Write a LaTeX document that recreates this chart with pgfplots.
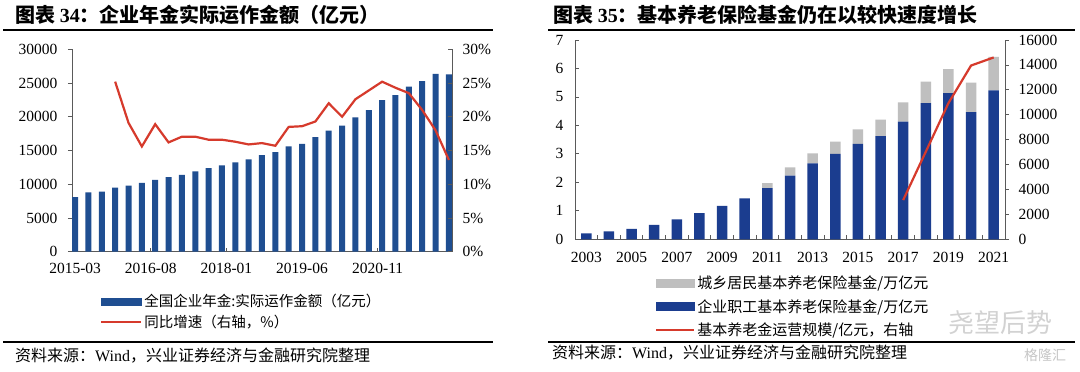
\documentclass[border=0pt]{standalone}
\usepackage{pgfplots}
\pgfplotsset{compat=1.18}
\usepackage{pgfplotstable}
\usepackage{fontspec}
\setmainfont{Liberation Serif}
\newfontfamily\cjk{Noto Sans CJK SC}
\definecolor{bluea}{RGB}{31,78,145}
\definecolor{blueb}{RGB}{27,61,143}
\definecolor{grayb}{RGB}{191,191,191}
\definecolor{redl}{RGB}{214,58,44}
\definecolor{axc}{RGB}{90,90,90}

\pgfplotstableread{
m v g
0 8100 nan
3 8800 nan
6 8900 nan
9 9500 25.2
12 9800 19.1
15 10200 15.6
18 10650 18.9
21 11050 16.2
24 11400 17.05
27 11900 17.05
30 12400 16.6
33 12800 16.6
36 13250 16.3
39 13700 15.9
42 14300 16.1
45 14750 15.7
48 15600 18.5
51 16000 18.6
54 17000 19.3
57 17950 22.0
60 18700 20.0
63 19900 22.6
66 21000 23.9
69 22450 25.2
72 23200 24.3
75 24450 23.5
78 25300 21.0
81 26350 18.0
84 26300 13.6
}\tabA

\pgfplotstableread{
y blue gray
2003 0.21 0
2004 0.28 0
2005 0.37 0
2006 0.51 0
2007 0.70 0
2008 0.92 0
2009 1.17 0
2010 1.44 0
2011 1.80 0.17
2012 2.24 0.29
2013 2.67 0.35
2014 3.00 0.43
2015 3.35 0.51
2016 3.62 0.58
2017 4.13 0.68
2018 4.78 0.76
2019 5.13 0.85
2020 4.47 1.03
2021 5.23 1.18
}\tabB

\pgfplotstableread{
y s
2017 3150
2018 7030
2019 10930
2020 13950
2021 14600
}\tabC

\pgfplotsset{
  base/.style={
    scale only axis,
    tick label style={font=\fontsize{15.5}{18}\selectfont},
    /pgf/number format/assume math mode=true,
    /pgf/number format/1000 sep={},
    scaled ticks=false,
    axis line style={axc, line width=0.8pt},
    tick style={axc, line width=0.8pt},
    major tick length=4pt,
    clip=false,
  }
}

\begin{document}
\begin{tikzpicture}
\path[use as bounding box, fill=white] (0pt,0pt) rectangle (1080pt,-372pt);

% ---------- titles and rules ----------
\node[anchor=west, inner sep=0pt] at (15pt,-15pt) {\cjk\bfseries\fontsize{20}{24}\selectfont 图表 {\rmfamily\bfseries 34}：企业年金实际运作金额（亿元）};
\node[anchor=west, inner sep=0pt] at (553pt,-15pt) {\cjk\bfseries\fontsize{20}{24}\selectfont 图表 {\rmfamily\bfseries 35}：基本养老保险基金仍在以较快速度增长};
\draw[line width=1.2pt] (3pt,-30pt) -- (493pt,-30pt);
\draw[line width=1.2pt] (548pt,-30pt) -- (1075pt,-30pt);
\draw[line width=1.2pt] (3pt,-342pt) -- (493pt,-342pt);
\draw[line width=1.2pt] (548pt,-342pt) -- (1075pt,-342pt);
\node[anchor=west, inner sep=0pt] at (15pt,-356pt) {\cjk\fontsize{16}{19}\selectfont 资料来源：{\rmfamily Wind}，兴业证券经济与金融研究院整理};
\node[anchor=west, inner sep=0pt] at (552pt,-353pt) {\cjk\fontsize{16}{19}\selectfont 资料来源：{\rmfamily Wind}，兴业证券经济与金融研究院整理};

% ---------- chart 1 ----------
\begin{axis}[base, at={(72pt,-251.7pt)}, anchor=south west,
  width=380pt, height=202.4pt,
  xmin=-0.7, xmax=84.7, ymin=0, ymax=30000,
  axis x line*=bottom, axis y line*=left,
  xtick={0,17,34,51,68},
  xticklabels={2015-03,2016-08,2018-01,2019-06,2020-11},
  ytick={0,5000,...,30000},
  xtick align=inside, ytick align=outside,
  xticklabel style={yshift=-8pt},
  yticklabel style={xshift=-7pt},
]
\addplot[ybar, bar width=6pt, fill=bluea, draw=none] table[x=m,y=v]{\tabA};
\end{axis}
\begin{axis}[base, at={(72pt,-251.7pt)}, anchor=south west,
  width=380pt, height=202.4pt,
  xmin=-0.7, xmax=84.7, ymin=0, ymax=30,
  axis x line=none, axis y line*=right,
  ytick={0,5,...,30}, yticklabel={\pgfmathprintnumber{\tick}\%},
  ytick align=inside,
  yticklabel style={xshift=7pt},
  legend style={at={(0.0737,-0.2)}, anchor=north west, draw=none, fill=none,
    font=\cjk\fontsize{14.5}{17}\selectfont, inner sep=0pt, row sep=3pt},
  legend cell align=left,
]
\addlegendimage{legend image code/.code={\fill[bluea] (0pt,-3.6pt) rectangle (40pt,3.6pt);}}
\addlegendentry{全国企业年金:实际运作金额（亿元）}
\addplot[redl, line width=2.2pt,
  legend image code/.code={\draw[redl, line width=2.2pt] (0pt,0pt) -- (40pt,0pt);}]
  table[x=m,y=g]{\tabA};
\addlegendentry{同比增速（右轴，\%）}
\end{axis}

% ---------- chart 2 ----------
\begin{axis}[base, at={(575pt,-239.3pt)}, anchor=south west,
  width=430pt, height=199.3pt,
  xmin=2002.5, xmax=2021.5, ymin=0, ymax=7,
  axis x line*=bottom, axis y line*=left,
  xtick={2003,2005,...,2021},
  minor xtick={2003.5,2004.5,...,2020.5},
  major x tick style={draw=none}, minor tick length=4pt,
  xtick align=inside,
  ytick={0,...,7}, ytick align=inside,
  xticklabel style={yshift=-9pt},
  yticklabel style={xshift=-8pt},
  ybar stacked, bar width=10.5pt,
]
\addplot[fill=blueb, draw=none] table[x=y,y=blue]{\tabB};
\addplot[fill=grayb, draw=none] table[x=y,y=gray]{\tabB};
\end{axis}
\begin{axis}[base, at={(575pt,-239.3pt)}, anchor=south west,
  width=430pt, height=199.3pt,
  xmin=2002.5, xmax=2021.5, ymin=0, ymax=16000,
  axis x line=none, axis y line*=right,
  ytick={0,2000,...,16000}, ytick align=outside,
  yticklabel style={xshift=6pt},
  legend style={at={(0.186,-0.172)}, anchor=north west, draw=none, fill=none,
    font=\cjk\fontsize{15}{18}\selectfont, inner sep=0pt, row sep=5.5pt},
  legend cell align=left,
]
\addlegendimage{legend image code/.code={\fill[grayb] (0pt,-4pt) rectangle (38pt,4pt);}}
\addlegendentry{城乡居民基本养老保险基金/万亿元}
\addlegendimage{legend image code/.code={\fill[blueb] (0pt,-4pt) rectangle (38pt,4pt);}}
\addlegendentry{企业职工基本养老保险基金/万亿元}
\addplot[redl, line width=2.2pt,
  legend image code/.code={\draw[redl, line width=2.2pt] (0pt,0pt) -- (38pt,0pt);}]
  table[x=y,y=s]{\tabC};
\addlegendentry{基本养老金运营规模/亿元，右轴}
\end{axis}

% watermarks
\node[text=gray!35, inner sep=0pt] at (1000pt,-323pt) {\cjk\fontsize{26}{28}\selectfont 尧望后势};
\node[text=gray!45, inner sep=0pt] at (1045pt,-355pt) {\cjk\fontsize{14}{16}\selectfont 格隆汇};
\end{tikzpicture}
\end{document}
